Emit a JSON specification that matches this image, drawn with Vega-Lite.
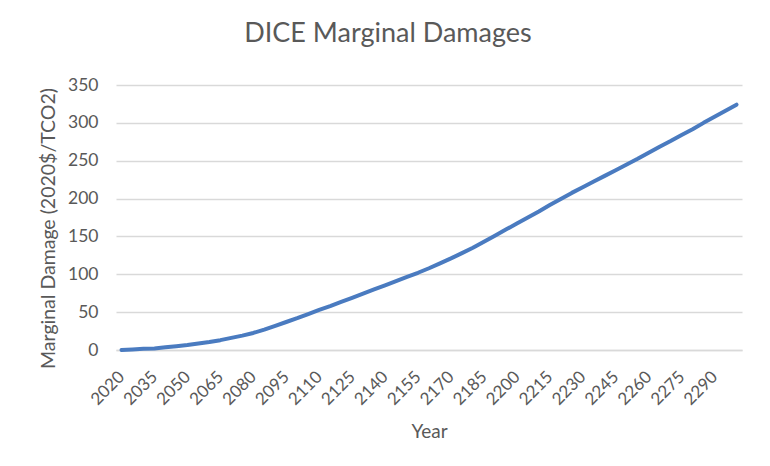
{
  "$schema": "https://vega.github.io/schema/vega-lite/v6.json",
  "width": 626,
  "height": 265,
  "autosize": {"type": "none"},
  "padding": {"left": 116, "top": 85, "right": 28, "bottom": 116},
  "background": "white",
  "title": {
    "text": "DICE Marginal Damages",
    "font": "Lato",
    "fontSize": 27,
    "fontWeight": "normal",
    "color": "#595959",
    "anchor": "middle",
    "frame": "group",
    "dx": -41,
    "offset": 28
  },
  "data": {
    "values": [
      {"year": 2020, "damage": 0},
      {"year": 2025, "damage": 0.8},
      {"year": 2030, "damage": 1.5},
      {"year": 2035, "damage": 2.0},
      {"year": 2040, "damage": 3.5},
      {"year": 2045, "damage": 5},
      {"year": 2050, "damage": 6.5},
      {"year": 2055, "damage": 8.5},
      {"year": 2060, "damage": 10.5},
      {"year": 2065, "damage": 13},
      {"year": 2070, "damage": 16},
      {"year": 2075, "damage": 19},
      {"year": 2080, "damage": 22.5},
      {"year": 2085, "damage": 27},
      {"year": 2090, "damage": 32},
      {"year": 2095, "damage": 37},
      {"year": 2100, "damage": 42},
      {"year": 2105, "damage": 47.5},
      {"year": 2110, "damage": 53},
      {"year": 2115, "damage": 58},
      {"year": 2120, "damage": 63.5},
      {"year": 2125, "damage": 69},
      {"year": 2130, "damage": 74.5},
      {"year": 2135, "damage": 80},
      {"year": 2140, "damage": 85.5},
      {"year": 2145, "damage": 91},
      {"year": 2150, "damage": 96.5},
      {"year": 2155, "damage": 102},
      {"year": 2160, "damage": 108},
      {"year": 2165, "damage": 114.5},
      {"year": 2170, "damage": 121},
      {"year": 2175, "damage": 128},
      {"year": 2180, "damage": 135},
      {"year": 2185, "damage": 143},
      {"year": 2190, "damage": 151},
      {"year": 2195, "damage": 159},
      {"year": 2200, "damage": 167},
      {"year": 2205, "damage": 175},
      {"year": 2210, "damage": 183},
      {"year": 2215, "damage": 191.5},
      {"year": 2220, "damage": 199.5},
      {"year": 2225, "damage": 207.5},
      {"year": 2230, "damage": 215},
      {"year": 2235, "damage": 222.5},
      {"year": 2240, "damage": 230},
      {"year": 2245, "damage": 237.5},
      {"year": 2250, "damage": 245},
      {"year": 2255, "damage": 252.5},
      {"year": 2260, "damage": 260.5},
      {"year": 2265, "damage": 268.5},
      {"year": 2270, "damage": 276},
      {"year": 2275, "damage": 284},
      {"year": 2280, "damage": 291.5},
      {"year": 2285, "damage": 300},
      {"year": 2290, "damage": 308},
      {"year": 2295, "damage": 316},
      {"year": 2300, "damage": 324}
    ]
  },
  "mark": {"type": "line", "color": "#4A7BC0", "strokeWidth": 4, "strokeCap": "round", "strokeJoin": "round"},
  "encoding": {
    "x": {
      "field": "year",
      "type": "ordinal",
      "scale": {"type": "point", "padding": 0.5},
      "axis": {
        "title": "Year",
        "values": [2020, 2035, 2050, 2065, 2080, 2095, 2110, 2125, 2140, 2155, 2170, 2185, 2200, 2215, 2230, 2245, 2260, 2275, 2290],
        "labelAngle": -45,
        "labelAlign": "right",
        "labelBaseline": "middle",
        "labelPadding": 24,
        "labelFontSize": 17,
        "ticks": false,
        "grid": false,
        "domainColor": "#D9D9D9",
        "domainWidth": 1.5,
        "titlePadding": 15,
        "titleFontSize": 19
      }
    },
    "y": {
      "field": "damage",
      "type": "quantitative",
      "scale": {"domain": [0, 350], "nice": false},
      "axis": {
        "title": "Marginal Damage (2020$/TCO2)",
        "values": [0, 50, 100, 150, 200, 250, 300, 350],
        "ticks": false,
        "domain": false,
        "grid": true,
        "gridColor": "#D9D9D9",
        "gridWidth": 1.5,
        "labelPadding": 18,
        "labelFontSize": 17.5,
        "titlePadding": 9,
        "titleFontSize": 19.5,
        "titleY": 143
      }
    }
  },
  "config": {
    "view": {"stroke": null},
    "axis": {
      "labelFont": "Lato",
      "labelFontSize": 16,
      "labelColor": "#595959",
      "titleFont": "Lato",
      "titleFontSize": 17,
      "titleFontWeight": "normal",
      "titleColor": "#595959"
    }
  }
}
